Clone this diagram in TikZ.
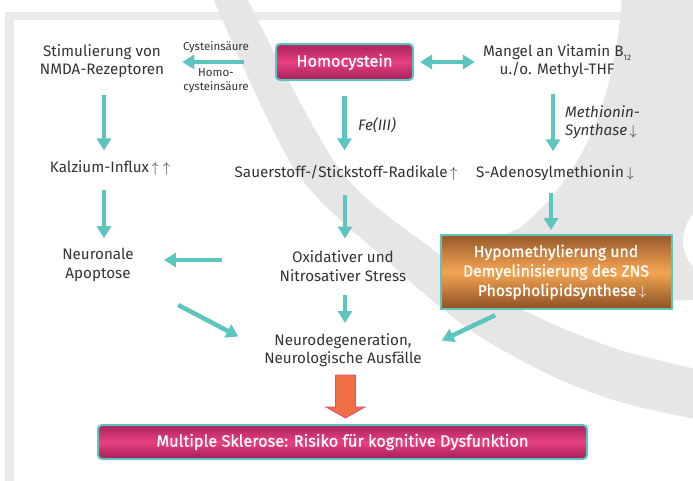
\documentclass[tikz,border=0pt]{standalone}
\usepackage{fontspec}
\setmainfont{Fira Sans}[BoldFont={Fira Sans}, BoldFeatures={FakeBold=0.9}]
\usetikzlibrary{arrows.meta,calc}
\definecolor{tealc}{HTML}{5CC5BF}
\definecolor{txtc}{HTML}{333333}
\definecolor{magd}{HTML}{A8235C}
\definecolor{magl}{HTML}{E8407F}
\definecolor{magb}{HTML}{A11F57}
\definecolor{brd}{HTML}{985A2A}
\definecolor{brl}{HTML}{F4A553}
\definecolor{brb}{HTML}{8C5022}
\definecolor{orac}{HTML}{F06E46}
\definecolor{orab}{HTML}{E5487C}
\definecolor{wmc}{HTML}{E6E6E7}
\definecolor{framec}{HTML}{EBEBED}
\newcommand\upar{$\uparrow$}
\newcommand\dnar{$\downarrow$}
\tikzset{
  txt/.style={inner sep=0pt, align=center, text=txtc, font=\fontsize{15.2}{18.5}\selectfont},
  smalltxt/.style={inner sep=0pt, align=center, text=txtc, font=\fontsize{11.5}{13.5}\selectfont},
  tarr/.style={draw=tealc, line width=4.5pt, -{Triangle[length=12pt,width=14pt]}},
  darr/.style={draw=tealc, line width=4.5pt, {Triangle[length=12pt,width=14pt]}-{Triangle[length=12pt,width=14pt]}},
  magbox/.style={draw=tealc, line width=2pt, rounded corners=4pt, top color=magd, bottom color=magb, middle color=magl, text=white, font=\fontsize{16.3}{18}\selectfont\bfseries, inner sep=0pt},
  brbox/.style={draw=tealc, line width=2pt, top color=brd, bottom color=brb, middle color=brl, text=white, align=center, font=\fontsize{15.8}{19.5}\selectfont\bfseries, inner sep=0pt},
}
\begin{document}
\begin{tikzpicture}[x=1pt,y=-1pt]
\useasboundingbox (0,0) rectangle (693,480);
% frame
\fill[framec] (5,12) rectangle (700,490);
\fill[white] (14,20) rectangle (700,490);
% watermark
\fill[wmc] plot[smooth] coordinates {(213,-2) (295,170) (392,265) (470,330) (550,375) (620,402) (700,420)}
  -- plot[smooth] coordinates {(700,370) (620,350) (555,325) (495,295) (440,255) (340,170) (247,-2)} -- cycle;
\fill[wmc] (622,-2) .. controls (615,90) and (590,170) .. (520,228) -- (450,260) -- (450,305) -- (700,300)
  -- (700,272) .. controls (680,262) and (675,225) .. (700,208) -- (700,-2) -- cycle;

% nodes
\node[magbox, minimum width=137pt, minimum height=36pt] (homo) at (344.5,62) {Homocystein};
\node[txt] (nmda) at (102,61) {Stimulierung von\\NMDA-Rezeptoren};
\node[txt] (vit) at (557,61) {Mangel an Vitamin B\raisebox{-4pt}{\fontsize{8}{8}\selectfont 12}\\u./o. Methyl-THF};
\node[smalltxt] (cys) at (216,47) {Cysteinsäure};
\node[smalltxt] (hcys) at (216,81) {Homo-\\cysteinsäure};
\node[txt] (ca) at (110,168) {Kalzium-Influx\,\upar\ \upar};
\node[txt] (rad) at (346,173) {Sauerstoff-/Stickstoff-Radikale\,\upar};
\node[txt] (sam) at (555,173) {S-Adenosylmethionin\,\dnar};
\node[txt, anchor=west, font=\fontsize{15.2}{18.5}\selectfont\itshape] (fe) at (358,125) {Fe(III)};
\node[txt, anchor=west, align=left, font=\fontsize{15.2}{18.5}\selectfont\itshape] (ms) at (565,122) {Methionin-\\Synthase\,\dnar};
\node[txt] (apo) at (98,265) {Neuronale\\Apoptose};
\node[txt] (stress) at (343,266) {Oxidativer und\\Nitrosativer Stress};
\node[brbox, minimum width=231pt, minimum height=74pt] (hypo) at (556,272) {Hypomethylierung und\\Demyelinisierung des ZNS\\\hspace*{12pt}Phospholipidsynthese\,\smash{\dnar}};
\node[txt] (neuro) at (343,350) {Neurodegeneration,\\Neurologische Ausfälle};
\node[magbox, minimum width=489pt, minimum height=34pt] (msk) at (342.5,442) {Multiple Sklerose: Risiko für kognitive Dysfunktion};

% connectors
\draw[tarr, shorten <=31pt, shorten >=18pt] (homo.west) -- (homo.west -| nmda.east);
\draw[darr, shorten <=6pt, shorten >=8pt] (homo.east) -- (homo.east -| vit.west);
\draw[tarr, shorten <=17pt, shorten >=10pt] ([xshift=2pt]nmda.south) -- ([xshift=2pt]nmda.south |- ca.north);
\draw[tarr, shorten <=14pt, shorten >=10pt] ([xshift=-6pt]ca.south) -- ([xshift=-6pt]ca.south |- apo.north);
\draw[tarr, shorten <=15pt, shorten >=15pt] (homo.south) -- (homo.south |- rad.north);
\draw[tarr, shorten <=14pt, shorten >=12pt] ([xshift=-1pt]rad.south) -- ([xshift=-1pt]rad.south |- stress.north);
\draw[tarr, shorten <=58pt, shorten >=30pt] ([yshift=6pt]stress.west) -- ([yshift=6pt]stress.west -| apo.east);
\draw[tarr, shorten <=14pt, shorten >=10pt] ([xshift=2pt]stress.south) -- ([xshift=2pt]stress.south |- neuro.north);
\draw[tarr, shorten <=50pt, shorten >=29pt] (apo.south east) -- (neuro.west);
\draw[tarr, shorten <=16pt, shorten >=14pt] ([xshift=-4pt]vit.south) -- ([xshift=-4pt]vit.south |- sam.north);
\draw[tarr, shorten <=12pt, shorten >=4pt] ([xshift=-4pt]sam.south) -- ([xshift=-4pt]sam.south |- hypo.north);
\draw[tarr, shorten <=12pt, shorten >=22pt] ([xshift=-50pt]hypo.south) -- (neuro.east);
% block arrow
\draw[fill=orac, draw=orab, line width=0.8pt] ($(msk.north)+(3,-6)$) -- ++(-19.5,-11) -- ++(9.5,0) -- ++(0,-32) -- ++(20,0) -- ++(0,32) -- ++(9.5,0) -- cycle;
\end{tikzpicture}
\end{document}
